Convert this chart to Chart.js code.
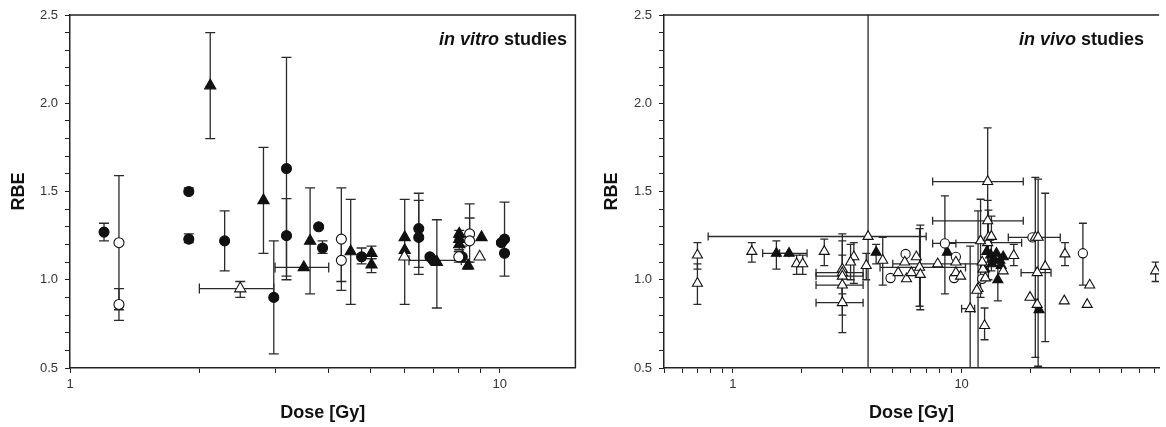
<!DOCTYPE html>
<html lang="en">
<head>
<meta charset="UTF-8">
<title>RBE vs dose</title>
<script src="https://cdn.jsdelivr.net/npm/chart.js"></script>
<style>
    body { margin: 0; background: #fff; }
    canvas { position: absolute; top: 0; }
</style>
</head>
<body>
<canvas id="vitroChart" width="583" height="427" style="left:0"></canvas>
<canvas id="vivoChart" width="583" height="427" style="left:583px"></canvas>
<script>
    // each row: [dose, RBE, RBE low, RBE high, dose low, dose high]
    const vitroFilledCircles = [
        [1.20, 1.27, 1.22, 1.32], [1.89, 1.50, 1.49, 1.52], [1.89, 1.23, 1.21, 1.26],
        [2.29, 1.22, 1.05, 1.39], [2.98, 0.90, 0.58, 1.22], [3.19, 1.63, 1.00, 2.26],
        [3.19, 1.25, 1.02, 1.46], [3.79, 1.30, 1.29, 1.31], [3.87, 1.18, 1.15, 1.22],
        [4.77, 1.13, 1.09, 1.18], [6.48, 1.29, 1.07, 1.49], [6.48, 1.24, 1.03, 1.45],
        [6.88, 1.13, 1.12, 1.14], [7.00, 1.11, null, null, 6.15, 8.14], [8.18, 1.13, 1.10, 1.19],
        [10.09, 1.21, 1.20, 1.22], [10.26, 1.23, 1.02, 1.44], [10.26, 1.15]
    ];
    const vitroOpenCircles = [
        [1.30, 1.21, 0.83, 1.59], [1.30, 0.86, 0.77, 0.95], [4.28, 1.23, 0.94, 1.52],
        [4.28, 1.11, 0.99, 1.23], [8.03, 1.13, 1.10, 1.16], [8.51, 1.26, 1.22, 1.43],
        [8.51, 1.22, 1.10, 1.35]
    ];
    const vitroFilledTriangles = [
        [2.12, 2.10, 1.80, 2.40], [2.82, 1.45, 1.15, 1.75], [3.50, 1.07, null, null, 3.0, 4.0],
        [3.62, 1.22, 0.92, 1.52], [4.50, 1.16, 0.86, 1.455], [5.03, 1.15, 1.12, 1.19],
        [5.03, 1.085, 1.04, 1.12], [6.01, 1.24, 0.86, 1.455], [6.01, 1.167],
        [7.14, 1.10, 0.84, 1.34], [8.05, 1.26, 1.24, 1.28], [8.05, 1.23],
        [8.05, 1.20, 1.17, 1.23], [8.44, 1.08, 1.06, 1.10], [9.07, 1.24]
    ];
    const vitroOpenTriangles = [
        [2.49, 0.95, 0.90, 0.99, 2.0, 2.98], [6.0, 1.13], [8.98, 1.13]
    ];

    const vivoOpenCircles = [
        [5.69, 1.146], [4.89, 1.01], [8.45, 1.206, 0.92, 1.475, 7.47, 9.44], [9.27, 1.01],
        [9.44, 1.13], [12.3, 1.005], [20.4, 1.24], [33.9, 1.15, 0.97, 1.32]
    ];
    const vivoFilledTriangles = [
        [1.55, 1.15, 1.06, 1.22, 1.35, 1.76], [1.76, 1.15, null, null, 1.6, 2.11],
        [4.23, 1.155, 1.09, 1.20], [8.66, 1.155], [12.9, 1.16], [13.4, 1.14], [13.8, 1.12],
        [14.2, 1.15], [14.7, 1.11], [15.2, 1.13], [13.6, 1.09], [14.9, 1.08], [12.6, 1.06],
        [14.4, 1.00, 0.88, 1.12], [21.8, 0.83]
    ];
    const vivoOpenTriangles = [
        [0.70, 1.14, 1.06, 1.21], [0.70, 0.98, 0.86, 1.09], [1.21, 1.16, 1.10, 1.21],
        [1.90, 1.09, 1.03, 1.14], [2.02, 1.09, 1.03, 1.14], [2.51, 1.16, 1.08, 1.23],
        [3.01, 1.06, 0.92, 1.26], [3.01, 1.04, null, null, 2.31, 3.71],
        [3.01, 1.02, 0.86, 1.22, 2.31, 3.71], [3.01, 0.97, 0.80, 1.14, 2.31, 3.71],
        [3.01, 0.87, 0.70, 1.04, 2.31, 3.71], [3.38, 1.13, 0.98, 1.21], [3.27, 1.10, 1.0, 1.20],
        [3.90, 1.245, 0.3, 2.7, 0.78, 7.0], [3.83, 1.08, 1.0, 1.15], [4.52, 1.11, 0.97, 1.24],
        [5.28, 1.04], [5.74, 1.005], [6.03, 1.04], [5.64, 1.10], [6.34, 1.13],
        [6.55, 1.07, 0.85, 1.29, 4.4, 10.4], [6.60, 1.03, 0.83, 1.31],
        [7.86, 1.09, null, null, 5.0, 12.5], [9.44, 1.10], [9.44, 1.04], [9.9, 1.02],
        [10.9, 0.836, 0.3, 1.19, 10.0, 11.4], [11.8, 0.95, 0.3, 1.39], [11.65, 0.94],
        [12.6, 0.74, 0.66, 0.84], [13.0, 1.556, 1.24, 1.86, 7.47, 18.6],
        [13.0, 1.334, 1.10, 1.45, 7.47, 18.6], [13.0, 1.21, null, null, 8.3, 18.3],
        [12.1, 1.22, 0.9, 1.456], [13.1, 1.24, 1.0, 1.394], [13.5, 1.245, 1.05, 1.36],
        [12.4, 1.06], [12.7, 1.01], [12.3, 1.10], [15.2, 1.05], [16.9, 1.137, 1.08, 1.2],
        [21.4, 1.04, null, null, 18.2, 24.6], [23.2, 1.075, 0.65, 1.49], [19.9, 0.90],
        [21.0, 1.24, 0.56, 1.58, 16.0, 27.0], [21.6, 1.24, 0.51, 1.57], [21.4, 0.86],
        [28.3, 1.146, 1.08, 1.21], [36.3, 0.97], [28.1, 0.88], [35.4, 0.86],
        [70.5, 1.05, 0.99, 1.10]
    ];

    const vitroDoseTicks = [1, 2, 3, 4, 5, 6, 7, 8, 9, 10];
    const vivoDoseTicks = [0.5, 0.6, 0.7, 0.8, 0.9, 1, 2, 3, 4, 5, 6, 7, 8, 9, 10, 20, 30, 40, 50, 60, 70];
    const doseTickLabels = [1, 10];
    const rbeTickLabels = ['0.5', '1.0', '1.5', '2.0', '2.5'];

    const FONT = "'Liberation Sans', Arial, sans-serif";
    Chart.defaults.font.family = FONT;
    Chart.defaults.color = '#222';

    const toPoints = rows => rows.map(([x, y, yMin, yMax, xMin, xMax]) => ({x, y, yMin, yMax, xMin, xMax}));

    function series(rows, shape, filled, radius) {
        return {
            data: toPoints(rows),
            pointStyle: shape,
            pointRadius: radius,
            backgroundColor: filled ? '#111' : '#fff',
            borderColor: '#111',
            borderWidth: 1.1,
            showLine: false
        };
    }

    // error bars under the markers
    const errorBars = {
        id: 'errorBars',
        beforeDatasetsDraw(chart, args, opts) {
            const {ctx, chartArea: a, scales: {x, y}} = chart;
            const cap = opts.cap;
            ctx.save();
            ctx.beginPath();
            ctx.rect(a.left, a.top, a.width, a.height);
            ctx.clip();
            ctx.strokeStyle = '#2a2a2a';
            ctx.lineWidth = 1.3;
            chart.data.datasets.forEach(ds => {
                ds.data.forEach(p => {
                    const px = x.getPixelForValue(p.x), py = y.getPixelForValue(p.y);
                    ctx.beginPath();
                    if (p.yMin != null) {
                        const y1 = y.getPixelForValue(p.yMin), y2 = y.getPixelForValue(p.yMax);
                        ctx.moveTo(px, y1); ctx.lineTo(px, y2);
                        ctx.moveTo(px - cap, y1); ctx.lineTo(px + cap, y1);
                        ctx.moveTo(px - cap, y2); ctx.lineTo(px + cap, y2);
                    }
                    if (p.xMin != null) {
                        const x1 = x.getPixelForValue(p.xMin), x2 = x.getPixelForValue(p.xMax);
                        ctx.moveTo(x1, py); ctx.lineTo(x2, py);
                        ctx.moveTo(x1, py - cap); ctx.lineTo(x1, py + cap);
                        ctx.moveTo(x2, py - cap); ctx.lineTo(x2, py + cap);
                    }
                    ctx.stroke();
                });
            });
            ctx.restore();
        }
    };

    const frame = {
        id: 'frame',
        afterDraw(chart, args, o) {
            const {ctx, chartArea: a} = chart;
            ctx.save();
            ctx.strokeStyle = '#222';
            ctx.lineWidth = 1.5;
            ctx.beginPath();
            ctx.moveTo(a.left, a.top);
            ctx.lineTo(a.right, a.top);
            if (o.right) ctx.lineTo(a.right, a.bottom);
            ctx.stroke();
            ctx.restore();
        }
    };

    const panelLabel = {
        id: 'panelLabel',
        afterDraw(chart, args, o) {
            const {ctx} = chart;
            const italic = `italic bold ${o.size}px ${FONT}`;
            const bold = `bold ${o.size}px ${FONT}`;
            ctx.save();
            ctx.fillStyle = '#111';
            ctx.font = bold;
            const w2 = ctx.measureText(o.rest).width;
            ctx.font = italic;
            const w1 = ctx.measureText(o.italic).width;
            const x0 = o.right - w1 - w2;
            ctx.fillText(o.italic, x0, o.baseline);
            ctx.font = bold;
            ctx.fillText(o.rest, x0 + w1, o.baseline);
            ctx.restore();
        }
    };

    function makeChart(id, datasets, cfg) {
        new Chart(document.getElementById(id), {
            type: 'scatter',
            data: {datasets},
            plugins: [errorBars, frame, panelLabel],
            options: {
                responsive: false,
                animation: false,
                layout: {padding: {top: 15, right: cfg.padRight, left: 0, bottom: 0}},
                plugins: {
                    legend: {display: false},
                    tooltip: {enabled: false},
                    errorBars: {cap: cfg.cap},
                    frame: {right: cfg.frameRight},
                    panelLabel: {italic: cfg.italic, rest: ' studies', size: 18, right: cfg.labelRight, baseline: 45}
                },
                scales: {
                    x: {
                        type: 'logarithmic',
                        min: cfg.xMin,
                        max: cfg.xMax,
                        afterBuildTicks: s => { s.ticks = cfg.ticks.map(v => ({value: v})); },
                        afterFit: s => { s.height = 59; },
                        border: {color: '#222', width: 1.5},
                        grid: {drawOnChartArea: false, tickLength: 5, color: '#222'},
                        ticks: {
                            autoSkip: false, maxRotation: 0, padding: 4,
                            font: {size: 13}, color: '#333',
                            callback: v => doseTickLabels.includes(v) ? String(v) : ''
                        },
                        title: {display: true, text: 'Dose [Gy]', font: {size: 18, weight: 'bold'}, color: '#111', padding: {top: 0, bottom: 3}}
                    },
                    y: {
                        min: 0.5,
                        max: 2.5,
                        afterFit: s => { s.width = cfg.yWidth; },
                        border: {color: '#222', width: 1.5},
                        grid: {drawOnChartArea: false, tickLength: 5, color: '#222'},
                        ticks: {
                            stepSize: 0.1, autoSkip: false, padding: 7,
                            font: {size: 13}, color: '#333',
                            callback: v => {
                                const lab = v.toFixed(1);
                                return rbeTickLabels.includes(lab) ? lab : '';
                            }
                        },
                        title: {display: true, text: 'RBE', font: {size: 18, weight: 'bold'}, color: '#111', padding: {top: cfg.yTitlePad, bottom: 0}}
                    }
                }
            }
        });
    }

    makeChart('vitroChart', [
        series(vitroOpenCircles, 'circle', false, 5),
        series(vitroOpenTriangles, 'triangle', false, 6.5),
        series(vitroFilledCircles, 'circle', true, 5),
        series(vitroFilledTriangles, 'triangle', true, 6.5)
    ], {
        xMin: 1, xMax: 15, ticks: vitroDoseTicks, padRight: 7, yWidth: 70, yTitlePad: 8,
        cap: 5, frameRight: true, italic: 'in vitro', labelRight: 567
    });

    makeChart('vivoChart', [
        series(vivoOpenTriangles, 'triangle', false, 5.8),
        series(vivoOpenCircles, 'circle', false, 4.6),
        series(vivoFilledTriangles, 'triangle', true, 5.8)
    ], {
        xMin: 0.5, xMax: 73, ticks: vivoDoseTicks, padRight: 0, yWidth: 81, yTitlePad: 18,
        cap: 4, frameRight: false, italic: 'in vivo', labelRight: 561
    });
</script>
</body>
</html>
